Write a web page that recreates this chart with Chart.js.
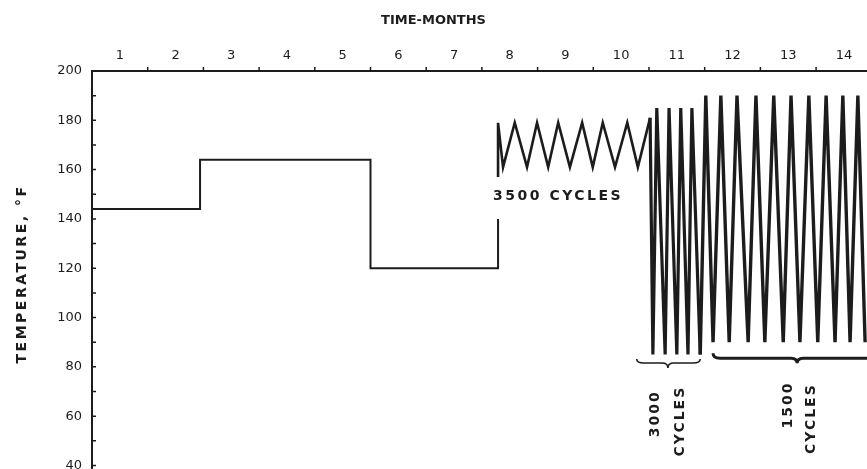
<!DOCTYPE html>
<html>
<head>
<meta charset="utf-8">
<script src="https://cdn.jsdelivr.net/npm/chart.js@4.4.1/dist/chart.umd.min.js"></script>
<style>
  html, body { margin: 0; background: #fff; }
  canvas { display: block; }
</style>
</head>
<body>
<canvas id="tempChart" width="867" height="469"></canvas>
<script>
const monthLabels = ['1', '2', '3', '4', '5', '6', '7', '8', '9', '10', '11', '12', '13', '14'];
const tempTicks = [40, 60, 80, 100, 120, 140, 160, 180, 200];

// constant-temperature periods
const soakMonths = [0, 1.94, 1.94, 5.0, 5.0, 7.29, 7.29];
const soakTemps = [144, 144, 164, 164, 120, 120, 140];

// 3500 cycles between ~161 and ~179 F
const smallCycleMonths = [7.29, 7.29, 7.38, 7.59, 7.81, 7.99, 8.19, 8.37, 8.58, 8.80, 8.99, 9.17, 9.39, 9.61, 9.80, 10.02];
const smallCycleTemps = [157, 179, 161, 179, 161, 179, 161, 179, 161, 179, 161, 179, 161, 179, 161, 181];

// 3000 cycles, 85-185 F
const midCycleMonths = [10.02, 10.07, 10.14, 10.29, 10.36, 10.50, 10.57, 10.70, 10.77, 10.92];
const midCycleTemps = [181, 85, 185, 85, 185, 85, 185, 85, 185, 85];

// 1500 cycles, 90-190 F
const bigCycleMonths = [10.92, 11.02, 11.15, 11.29, 11.44, 11.58, 11.78, 11.92, 12.08, 12.24, 12.41, 12.55, 12.71, 12.87, 13.03, 13.18, 13.34, 13.48, 13.61, 13.75, 13.88];
const bigCycleTemps = [85, 190, 90, 190, 90, 190, 90, 190, 90, 190, 90, 190, 90, 190, 90, 190, 90, 190, 90, 190, 90];

const INK = '#1c1c1c';
const X_MAX = 13.914;
const Y_MIN = 38.58;
const Y_MAX = 200;

Chart.defaults.font.family = '"DejaVu Sans", sans-serif';
Chart.defaults.color = INK;

function toPoints(xs, ys) {
  return xs.map((x, i) => ({ x: x, y: ys[i] }));
}

function line(xs, ys, width) {
  return {
    data: toPoints(xs, ys),
    borderColor: INK,
    borderWidth: width,
    pointRadius: 0,
    tension: 0,
    fill: false
  };
}

// curly brace lying under a group of cycles, tip pointing down
function brace(ctx, x0, x1, xt, py, depth, lw) {
  ctx.lineWidth = lw;
  ctx.beginPath();
  ctx.moveTo(x0, py - depth);
  ctx.quadraticCurveTo(x0, py, x0 + 7, py);
  ctx.lineTo(xt - 6, py);
  ctx.quadraticCurveTo(xt, py, xt, py + 5);
  ctx.quadraticCurveTo(xt, py, xt + 6, py);
  ctx.lineTo(x1 - 7, py);
  ctx.quadraticCurveTo(x1, py, x1, py - depth);
  ctx.stroke();
}

function upText(ctx, text, px, py) {
  ctx.save();
  ctx.translate(px, py);
  ctx.rotate(-Math.PI / 2);
  ctx.fillText(text, 0, 0);
  ctx.restore();
}

const annotations = {
  id: 'annotations',
  afterDraw(chart) {
    const { ctx, chartArea: area } = chart;
    const x = chart.scales.x;
    const y = chart.scales.y;
    ctx.save();
    ctx.strokeStyle = INK;
    ctx.fillStyle = INK;

    // month boundaries above the time axis, inward ticks every 10 F
    ctx.lineWidth = 1.5;
    ctx.beginPath();
    for (let m = 1; m < X_MAX; m++) {
      const px = x.getPixelForValue(m);
      ctx.moveTo(px, area.top);
      ctx.lineTo(px, area.top - 4);
    }
    for (let v = 40; v < Y_MAX; v += 10) {
      const py = y.getPixelForValue(v);
      ctx.moveTo(area.left, py);
      ctx.lineTo(area.left + 4, py);
    }
    ctx.stroke();

    ctx.textAlign = 'center';
    ctx.textBaseline = 'middle';
    ctx.font = 'bold 14px "DejaVu Sans"';
    ctx.letterSpacing = '2.5px';
    upText(ctx, 'TEMPERATURE, °F', 22, (area.top + area.bottom) / 2 + 4);

    ctx.textAlign = 'left';
    ctx.fillText('3500 CYCLES', x.getPixelForValue(7.29) - 5, y.getPixelForValue(149));

    ctx.letterSpacing = '2px';
    ctx.textAlign = 'center';
    upText(ctx, '3000', x.getPixelForValue(10.11), y.getPixelForValue(61));
    upText(ctx, 'CYCLES', x.getPixelForValue(10.56), y.getPixelForValue(58));
    upText(ctx, '1500', x.getPixelForValue(12.50), y.getPixelForValue(64.5));
    upText(ctx, 'CYCLES', x.getPixelForValue(12.91), y.getPixelForValue(59));

    brace(ctx, x.getPixelForValue(9.78), x.getPixelForValue(10.92), x.getPixelForValue(10.34),
      y.getPixelForValue(81.6), 4, 1.6);
    brace(ctx, x.getPixelForValue(11.15), x.getPixelForValue(14.3), x.getPixelForValue(12.66),
      y.getPixelForValue(83.5), 5, 3);

    ctx.restore();
  }
};

new Chart(document.getElementById('tempChart'), {
  type: 'line',
  data: {
    datasets: [
      line(soakMonths, soakTemps, 2),
      line(smallCycleMonths, smallCycleTemps, 2.6),
      line(midCycleMonths, midCycleTemps, 3.2),
      line(bigCycleMonths, bigCycleTemps, 3.4)
    ]
  },
  options: {
    responsive: false,
    animation: false,
    layout: { padding: 0 },
    plugins: {
      legend: { display: false },
      tooltip: { enabled: false },
      title: {
        display: true,
        text: 'TIME-MONTHS',
        color: INK,
        font: { size: 13, weight: 'bold' },
        padding: { top: 13, bottom: 0 }
      }
    },
    scales: {
      x: {
        type: 'linear',
        position: 'top',
        min: 0,
        max: X_MAX,
        grid: { display: false, drawTicks: false },
        border: { display: true, color: INK, width: 2 },
        afterBuildTicks: s => { s.ticks = monthLabels.map((_, i) => ({ value: i + 0.5 })); },
        ticks: {
          autoSkip: false,
          maxRotation: 0,
          padding: 8,
          font: { size: 13 },
          callback: (v, i) => monthLabels[i]
        },
        afterFit: s => { s.height = 42.4; s.paddingLeft = 0; s.paddingRight = 0; }
      },
      y: {
        type: 'linear',
        min: Y_MIN,
        max: Y_MAX,
        grid: { display: false, drawTicks: false },
        border: { display: true, color: INK, width: 2 },
        afterBuildTicks: s => { s.ticks = tempTicks.map(v => ({ value: v })); },
        ticks: {
          padding: 10,
          font: { size: 13 },
          callback: v => String(v)
        },
        afterFit: s => { s.width = 92; s.paddingTop = 0; s.paddingBottom = 0; }
      }
    }
  },
  plugins: [annotations]
});
</script>
</body>
</html>
